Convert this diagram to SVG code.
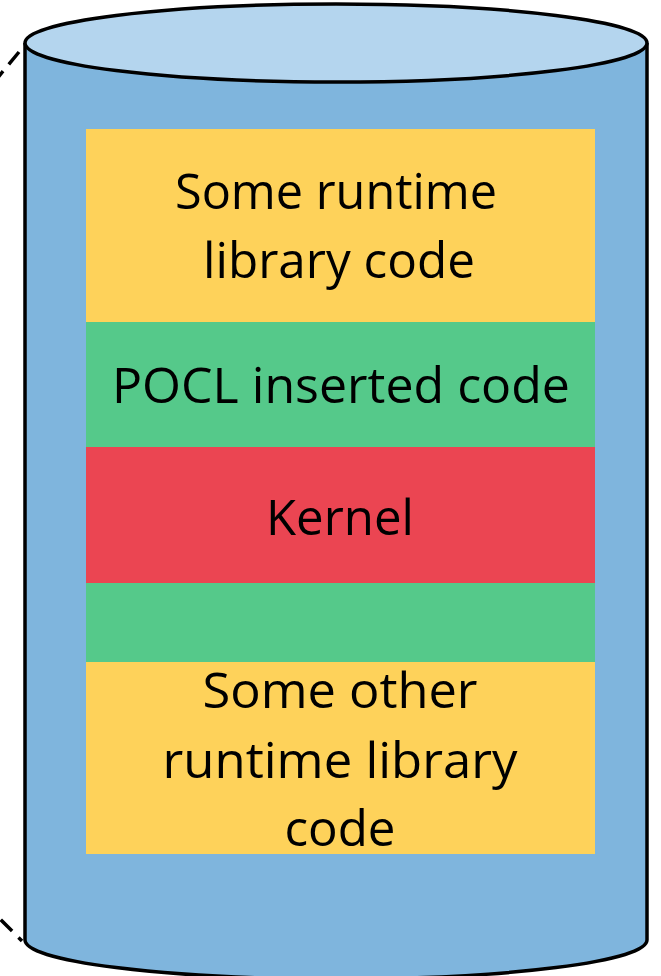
<svg xmlns="http://www.w3.org/2000/svg" width="661" height="976" viewBox="0 0 661 976">
  <style>
    .lbl { font-family: "Open Sans", "Noto Sans", "Liberation Sans", sans-serif; font-size: 50px; fill: #000; text-anchor: middle; }
    .edge { fill: none; stroke: #000; stroke-width: 3.5; }
    .dash { fill: none; stroke: #000; stroke-width: 3.5; }
  </style>
  <rect width="661" height="976" fill="#fff"/>

  <!-- connectors leaving the stack on the left -->
  <g id="connectors">
    <path class="dash" d="M19,52 L-25,105" stroke-dasharray="16 9"/>
    <path class="dash" d="M22,941 L-25,894" stroke-dasharray="5 9 16 8"/>
  </g>

  <!-- memory image drawn as a cylinder -->
  <g id="cylinder">
    <path d="M25,43 L25,940 A311,39 0 0 0 647,940 L647,43 Z" fill="#7FB5DD"/>
    <path class="edge" d="M25,43 L25,940 A311,39 0 0 0 647,940 L647,43"/>
    <ellipse cx="336" cy="43" rx="311" ry="39" fill="#B4D5EE" stroke="#000" stroke-width="3.5"/>
  </g>

  <g id="runtime-top">
    <rect x="86" y="129" width="509" height="193" fill="#FED25A"/>
    <text class="lbl" x="336" y="209" textLength="322" lengthAdjust="spacingAndGlyphs">Some runtime</text>
    <text class="lbl" x="339" y="278" textLength="272" lengthAdjust="spacingAndGlyphs">library code</text>
  </g>

  <g id="pocl-inserted">
    <rect x="86" y="322" width="509" height="125" fill="#55C98A"/>
    <text class="lbl" x="341" y="403" textLength="458" lengthAdjust="spacingAndGlyphs">POCL inserted code</text>
  </g>

  <g id="kernel">
    <rect x="86" y="447" width="509" height="136" fill="#EB4552"/>
    <text class="lbl" x="340" y="535" textLength="148" lengthAdjust="spacingAndGlyphs">Kernel</text>
  </g>

  <g id="pocl-inserted-2">
    <rect x="86" y="583" width="509" height="79" fill="#55C98A"/>
  </g>

  <g id="runtime-bottom">
    <rect x="86" y="662" width="509" height="192" fill="#FED25A"/>
    <text class="lbl" x="340" y="708" textLength="275" lengthAdjust="spacingAndGlyphs">Some other</text>
    <text class="lbl" x="340" y="778" textLength="355" lengthAdjust="spacingAndGlyphs">runtime library</text>
    <text class="lbl" x="340" y="846" textLength="111" lengthAdjust="spacingAndGlyphs">code</text>
  </g>
</svg>
